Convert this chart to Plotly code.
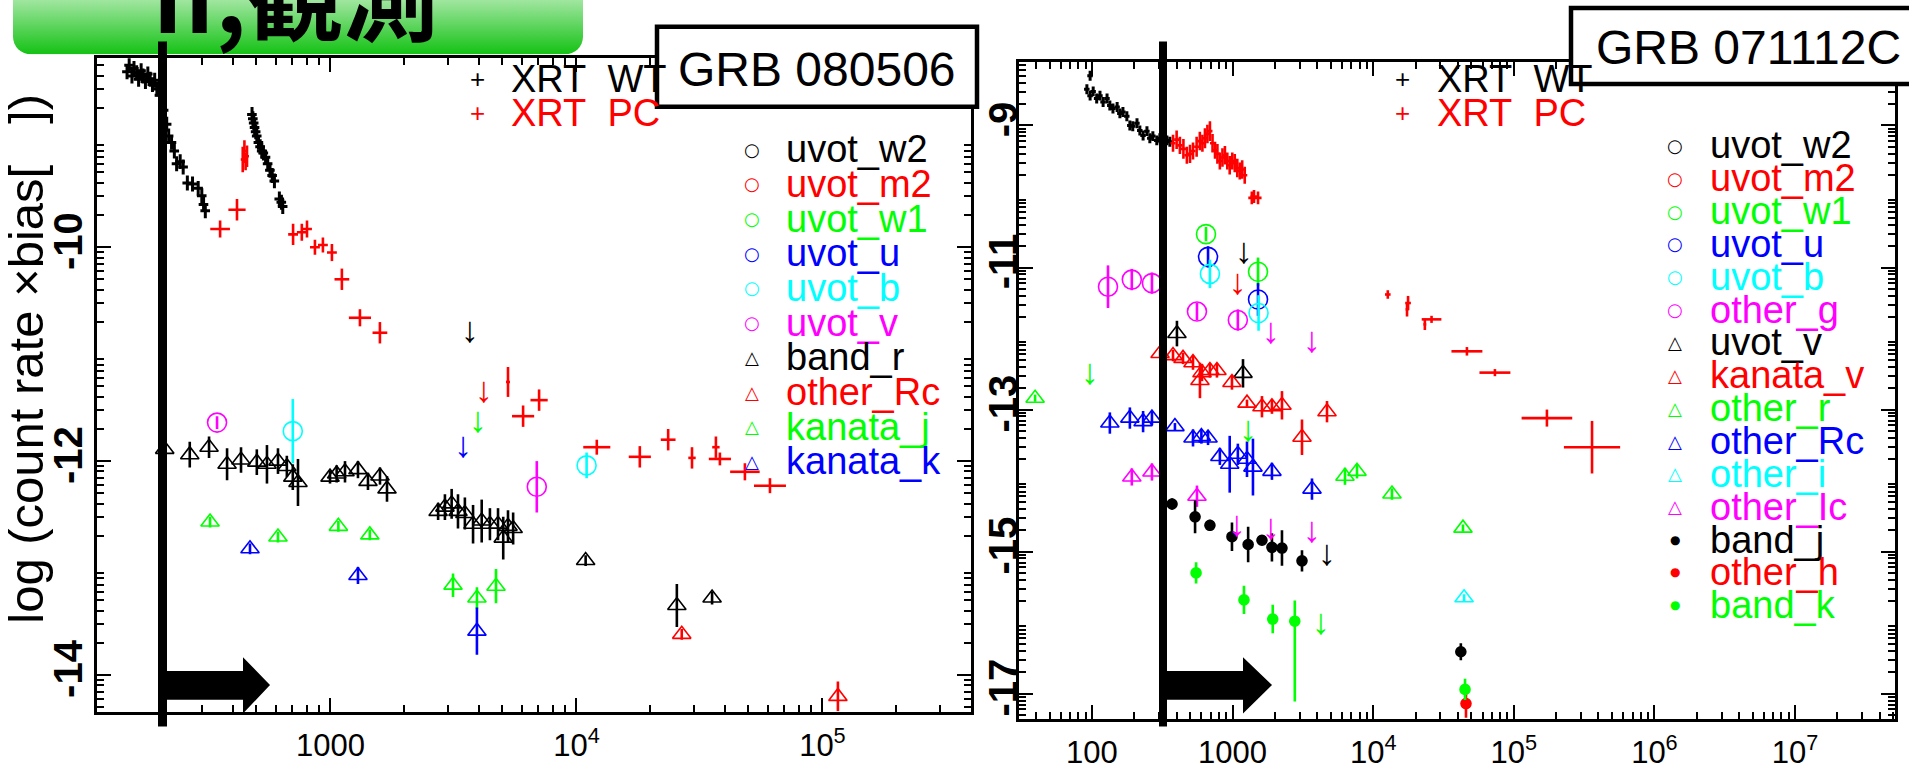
import base64
import numpy as np
import plotly.graph_objects as go

W, H = 1909, 770
FONT = "Liberation Sans, Arial, sans-serif"
BLACK, RED, GREEN, BLUE, CYAN, MAGENTA = "#000000", "#ff0000", "#00ff00", "#0000ff", "#00ffff", "#ff00ff"

# ===================== GRB 080506 (left panel) =====================
L_WT_T = [149, 152, 156, 159, 163, 166, 170, 173, 177, 181, 185, 189, 193, 197, 202, 210, 216, 220, 226, 232,
          237, 245, 252, 262, 275, 290, 300, 305, 310,
          480, 484, 488, 492, 497, 502, 510, 518, 526, 534, 545, 556, 568, 580, 592, 620, 632, 640]
L_WT_V = [-8.36, -8.30, -8.40, -8.33, -8.37, -8.43, -8.35, -8.40, -8.45, -8.38, -8.43, -8.48, -8.44, -8.52, -8.58,
          -8.72, -8.85, -8.96, -9.02, -9.10, -9.22, -9.20, -9.25, -9.40, -9.41, -9.45, -9.52, -9.60, -9.66,
          -8.76, -8.80, -8.84, -8.88, -8.92, -8.96, -9.02, -9.06, -9.10, -9.12, -9.16, -9.22, -9.28, -9.33, -9.38,
          -9.55, -9.58, -9.62]

L_PC_T = [356, 417, 440, 447, 452, 458, 705, 765, 803, 865, 932, 1014, 1113, 1318, 1589, 5270, 6070, 7050,
          12100, 18100, 23600, 29500, 36900, 38300, 48400, 61200]
L_PC_V = [-9.83, -9.65, -9.18, -9.10, -9.20, -9.15, -9.88, -9.86, -9.83, -10.00, -9.98, -10.05, -10.30, -10.66,
          -10.80, -11.26, -11.58, -11.43, -11.87, -11.96, -11.80, -11.97, -11.87, -11.98, -12.10, -12.23]
L_PC_XERR = [0.040, 0.035, 0.008, 0.008, 0.008, 0.008, 0.020, 0.020, 0.020, 0.020, 0.020, 0.020, 0.030, 0.045,
             0.030, 0.008, 0.045, 0.035, 0.055, 0.045, 0.030, 0.015, 0.015, 0.045, 0.060, 0.065]
L_PC_YERR = [0.08, 0.10, 0.12, 0.10, 0.08, 0.10, 0.10, 0.08, 0.08, 0.07, 0.07, 0.08, 0.10, 0.08, 0.10, 0.14,
             0.10, 0.10, 0.07, 0.10, 0.10, 0.10, 0.10, 0.06, 0.08, 0.07]

L_UV_T, L_UV_V, L_UV_E = [346, 6900], [-11.64, -12.24], [0.06, 0.24]
L_UB_T, L_UB_V, L_UB_E = [703, 11000], [-11.72, -12.04], [0.30, 0.12]

L_R_T = [212, 268, 321, 380, 433, 502, 552, 612, 665, 703, 738, 996, 1060, 1146, 1294, 1421, 1590, 1698,
         2740, 2920, 3110, 3300, 3520, 3800, 4120, 4450, 4800, 5040, 5270, 5530, 10900, 25600, 35600]
L_R_V = [-11.89, -11.94, -11.87, -12.03, -11.99, -12.01, -12.03, -12.00, -12.05, -12.15, -12.20,
         -12.15, -12.12, -12.10, -12.08, -12.19, -12.14, -12.26,
         -12.47, -12.43, -12.40, -12.47, -12.49, -12.59, -12.56, -12.59, -12.59, -12.72, -12.61, -12.63,
         -12.93, -13.35, -13.28]
L_R_E = [0.05, 0.12, 0.10, 0.15, 0.12, 0.12, 0.18, 0.12, 0.10, 0.12, 0.22, 0.06, 0.08, 0.10, 0.08, 0.08, 0.08,
         0.12, 0.08, 0.12, 0.14, 0.16, 0.15, 0.18, 0.20, 0.15, 0.15, 0.20, 0.15, 0.15, 0.05, 0.20, 0.06]

L_KJ_T = [324, 612, 1077, 1446, 3150, 3940, 4710]
L_KJ_V = [-12.57, -12.71, -12.61, -12.69, -13.16, -13.28, -13.17]
L_KJ_E = [0.05, 0.05, 0.05, 0.05, 0.11, 0.10, 0.16]
L_KK_T, L_KK_V, L_KK_E = [471, 1294, 3940], [-12.82, -13.07, -13.59], [0.05, 0.08, 0.22]
L_RC_T, L_RC_V, L_RC_E = [26800, 115600], [-13.62, -14.20], [0.05, 0.14]

L_UL_BLACK_T, L_UL_BLACK_V = [3690], [-10.80]
L_UL_RED_T, L_UL_RED_V = [4210], [-11.36]
L_UL_GREEN_T, L_UL_GREEN_V = [3980], [-11.64]
L_UL_BLUE_T, L_UL_BLUE_V = [3470], [-11.88]

# ===================== GRB 071112C (right panel) =====================
R_WT_T = [92, 97, 97, 102, 108, 114, 120, 128, 134, 141, 151, 158, 166, 177, 186, 195, 209, 219, 231, 246,
          258, 271, 289, 304, 320, 341, 358]
R_WT_V = [-8.49, -8.30, -8.58, -8.52, -8.62, -8.58, -8.67, -8.62, -8.72, -8.76, -8.74, -8.83, -8.81, -8.87,
          -9.00, -9.01, -8.97, -9.07, -9.14, -9.08, -9.18, -9.15, -9.21, -9.18, -9.25, -9.21, -9.23]

R_PC_T = [377, 400, 422, 447, 473, 498, 523, 555, 585, 610, 636, 662, 690, 720, 750, 780, 812, 847, 882, 917,
          954, 995, 1036, 1080, 1125, 1170, 1220, 1370, 1420, 1517,
          12700, 17400, 17700, 23300, 26000, 46400, 73400, 172000, 360000]
R_PC_V = [-9.25, -9.20, -9.28, -9.33, -9.42, -9.40, -9.36, -9.30, -9.22, -9.25, -9.18, -9.12, -9.08, -9.25,
          -9.35, -9.40, -9.50, -9.45, -9.42, -9.50, -9.56, -9.50, -9.53, -9.60, -9.64, -9.62, -9.70, -10.02,
          -10.00, -10.02,
          -11.38, -11.59, -11.50, -11.80, -11.73, -12.18, -12.48, -13.12, -13.53]
R_PC_XERR = [0.018, 0.018, 0.018, 0.018, 0.018, 0.018, 0.018, 0.018, 0.018, 0.018, 0.018, 0.018, 0.018, 0.018,
             0.018, 0.018, 0.018, 0.018, 0.018, 0.018, 0.018, 0.018, 0.018, 0.018, 0.018, 0.018, 0.018, 0.025,
             0.025, 0.025,
             0.020, 0.010, 0.020, 0.010, 0.070, 0.110, 0.110, 0.180, 0.200]
R_PC_YERR = [0.12, 0.13, 0.12, 0.14, 0.12, 0.13, 0.12, 0.14, 0.13, 0.12, 0.14, 0.13, 0.14, 0.13, 0.12, 0.14,
             0.12, 0.13, 0.13, 0.12, 0.13, 0.12, 0.13, 0.13, 0.12, 0.13, 0.12, 0.09, 0.09, 0.09,
             0.06, 0.10, 0.10, 0.08, 0.05, 0.06, 0.05, 0.12, 0.37]

R_W1_T, R_W1_V, R_W1_E = [647, 1517], [-10.53, -11.06], [0.10, 0.20]
R_U_T, R_U_V, R_U_E = [669, 1517], [-10.85, -11.45], [0.15, 0.23]
R_B_T, R_B_V, R_B_E = [690, 1530], [-11.09, -11.64], [0.20, 0.25]
R_G_T = [130, 192, 267, 558, 1090]
R_G_V = [-11.27, -11.17, -11.22, -11.62, -11.74]
R_G_E = [0.30, 0.15, 0.15, 0.12, 0.15]

R_V_T, R_V_V, R_V_E = [402, 1186], [-11.93, -12.49], [0.18, 0.20]
R_KV_T = [305, 377, 444, 523, 606, 586, 690, 774, 990, 1266, 1618, 1905, 2245, 3116, 4693]
R_KV_V = [-12.21, -12.24, -12.28, -12.34, -12.48, -12.59, -12.45, -12.45, -12.62, -12.91, -12.96, -12.96,
          -12.94, -13.39, -13.03]
R_KV_E = [0.05, 0.08, 0.08, 0.10, 0.12, 0.25, 0.10, 0.10, 0.10, 0.05, 0.15, 0.10, 0.20, 0.25, 0.15]
R_R_T = [39.4, 6300, 7670, 13600, 43500]
R_R_V = [-12.84, -13.94, -13.87, -14.19, -14.67]
R_R_E = [0.05, 0.12, 0.10, 0.08, 0.05]
R_RC_T = [134, 186, 231, 267, 389, 523, 600, 669, 812, 954, 1090, 1266, 1396, 1905, 3670]
R_RC_V = [-13.19, -13.12, -13.17, -13.12, -13.24, -13.40, -13.38, -13.40, -13.66, -13.77, -13.63, -13.70,
          -13.81, -13.87, -14.12]
R_RC_E = [0.15, 0.15, 0.15, 0.10, 0.05, 0.12, 0.10, 0.10, 0.12, 0.40, 0.15, 0.25, 0.40, 0.12, 0.15]
R_I_T, R_I_V, R_I_E = [44300], [-15.65], [0.05]
R_IC_T, R_IC_V, R_IC_E = [192, 267, 558], [-13.95, -13.88, -14.22], [0.12, 0.12, 0.15]

R_J_T = [371, 541, 690, 990, 1290, 1618, 1905, 2245, 3116, 42000]
R_J_V = [-14.33, -14.51, -14.63, -14.79, -14.90, -14.84, -14.94, -14.95, -15.13, -16.41]
R_J_E = [0.08, 0.23, 0.08, 0.20, 0.25, 0.05, 0.20, 0.25, 0.15, 0.12]
R_H_T, R_H_V, R_H_E = [45700], [-17.14], [0.20]
R_K_T = [550, 1205, 1930, 2770, 45000]
R_K_V = [-15.30, -15.68, -15.95, -15.98, -16.94]
R_K_EP = [0.15, 0.20, 0.20, 0.29, 0.15]
R_K_EM = [0.15, 0.20, 0.20, 1.13, 0.15]

R_UL_BLACK_T, R_UL_BLACK_V = [1205, 4690], [-10.81, -15.06]
R_UL_RED_T, R_UL_RED_V = [1090], [-11.25]
R_UL_GREEN_T, R_UL_GREEN_V = [97, 1290, 4250], [-12.52, -13.31, -16.04]
R_UL_MAG_T, R_UL_MAG_V = [1875, 3670, 1075, 1875, 3670], [-11.93, -12.06, -14.65, -14.70, -14.74]

# ===================== legends / ticks / texts =====================
XRT_NAMES = ["XRT\u00a0\u00a0WT", "XRT\u00a0\u00a0PC"]
XRT_COLORS = [BLACK, RED]
L_LEG_NAMES = ["uvot_w2", "uvot_m2", "uvot_w1", "uvot_u", "uvot_b", "uvot_v",
               "band_r", "other_Rc", "kanata_j", "kanata_k"]
L_LEG_COLORS = [BLACK, RED, GREEN, BLUE, CYAN, MAGENTA, BLACK, RED, GREEN, BLUE]
L_LEG_GLYPHS = ["○"] * 6 + ["△"] * 4
R_LEG_NAMES = ["uvot_w2", "uvot_m2", "uvot_w1", "uvot_u", "uvot_b", "other_g", "uvot_v", "kanata_v",
               "other_r", "other_Rc", "other_i", "other_Ic", "band_j", "other_h", "band_k"]
R_LEG_COLORS = [BLACK, RED, GREEN, BLUE, CYAN, MAGENTA, BLACK, RED, GREEN, BLUE, CYAN, MAGENTA,
                BLACK, RED, GREEN]
R_LEG_GLYPHS = ["○"] * 6 + ["△"] * 6 + ["●"] * 3

L_XTICKS = [1e3, 1e4, 1e5]
L_XTEXT = ["1000", "10<sup>4</sup>", "10<sup>5</sup>"]
R_XTICKS = [1e2, 1e3, 1e4, 1e5, 1e6, 1e7]
R_XTEXT = ["100", "1000", "10<sup>4</sup>", "10<sup>5</sup>", "10<sup>6</sup>", "10<sup>7</sup>"]
L_YTICKS = [-10, -12, -14]
L_YTEXT = ["-10", "-12", "-14"]
L_YTICKS_UNLABELED = [-9, -11, -13]
R_YTICKS = [-9, -11, -13, -15, -17]
R_YTEXT = ["-9", "-11", "-13", "-15", "-17"]
R_YTICKS_UNLABELED = [-10, -12, -14, -16]

TITLE = "<b>II,観測</b>"
Y_TITLE = "log (count rate \u00d7bias[\u00a0\u00a0\u00a0])"
GRB_L = "GRB 080506"
GRB_R = "GRB 071112C"


# ===================== helpers =====================
def px(x):
    return x / W


def py(y):
    return 1 - y / H


def dex_err(t, d):
    t = np.asarray(t, float)
    d = np.asarray(d, float)
    return t * (10 ** d - 1), t * (1 - 10 ** (-d))


def xrt_pc(t, v, xd, ye, color, xa, ya):
    plus, minus = dex_err(t, xd)
    return go.Scatter(x=t, y=v, mode="markers", xaxis=xa, yaxis=ya, marker=dict(size=1, color=color),
                      error_x=dict(type="data", symmetric=False, array=plus, arrayminus=minus,
                                   color=color, thickness=2.6, width=0),
                      error_y=dict(type="data", array=ye, color=color, thickness=2.6, width=0))


def xrt_wt(t, v, color, xa, ya):
    return go.Scatter(x=t, y=v, mode="markers", xaxis=xa, yaxis=ya, marker=dict(size=1, color=color),
                      error_x=dict(type="percent", value=4.5, color=color, thickness=3, width=0),
                      error_y=dict(type="constant", value=0.07, color=color, thickness=3, width=0))


def pts(t, v, e, color, symbol, size, xa, ya, em=None):
    ey = dict(type="data", array=e, color=color, thickness=2.6, width=0)
    if em is not None:
        ey.update(symmetric=False, arrayminus=em)
    return go.Scatter(x=t, y=v, mode="markers", xaxis=xa, yaxis=ya,
                      marker=dict(symbol=symbol, size=size, color=color, line=dict(color=color, width=1.6)),
                      error_y=ey)


def ul(t, v, color, xa, ya):
    return go.Scatter(x=t, y=v, mode="text", text=["↓"] * len(t), textposition="middle center",
                      xaxis=xa, yaxis=ya, textfont=dict(family=FONT, size=36, color=color))


traces = [
    xrt_wt(L_WT_T, L_WT_V, BLACK, "x", "y"),
    xrt_pc(L_PC_T, L_PC_V, L_PC_XERR, L_PC_YERR, RED, "x", "y"),
    pts(L_R_T, L_R_V, L_R_E, BLACK, "triangle-up-open", 16, "x", "y"),
    pts(L_KJ_T, L_KJ_V, L_KJ_E, GREEN, "triangle-up-open", 16, "x", "y"),
    pts(L_KK_T, L_KK_V, L_KK_E, BLUE, "triangle-up-open", 16, "x", "y"),
    pts(L_RC_T, L_RC_V, L_RC_E, RED, "triangle-up-open", 16, "x", "y"),
    pts(L_UV_T, L_UV_V, L_UV_E, MAGENTA, "circle-open", 19, "x", "y"),
    pts(L_UB_T, L_UB_V, L_UB_E, CYAN, "circle-open", 19, "x", "y"),
    ul(L_UL_BLACK_T, L_UL_BLACK_V, BLACK, "x", "y"),
    ul(L_UL_RED_T, L_UL_RED_V, RED, "x", "y"),
    ul(L_UL_GREEN_T, L_UL_GREEN_V, GREEN, "x", "y"),
    ul(L_UL_BLUE_T, L_UL_BLUE_V, BLUE, "x", "y"),

    xrt_wt(R_WT_T, R_WT_V, BLACK, "x2", "y2"),
    xrt_pc(R_PC_T, R_PC_V, R_PC_XERR, R_PC_YERR, RED, "x2", "y2"),
    pts(R_W1_T, R_W1_V, R_W1_E, GREEN, "circle-open", 19, "x2", "y2"),
    pts(R_U_T, R_U_V, R_U_E, BLUE, "circle-open", 19, "x2", "y2"),
    pts(R_B_T, R_B_V, R_B_E, CYAN, "circle-open", 19, "x2", "y2"),
    pts(R_G_T, R_G_V, R_G_E, MAGENTA, "circle-open", 19, "x2", "y2"),
    pts(R_V_T, R_V_V, R_V_E, BLACK, "triangle-up-open", 16, "x2", "y2"),
    pts(R_KV_T, R_KV_V, R_KV_E, RED, "triangle-up-open", 16, "x2", "y2"),
    pts(R_R_T, R_R_V, R_R_E, GREEN, "triangle-up-open", 16, "x2", "y2"),
    pts(R_RC_T, R_RC_V, R_RC_E, BLUE, "triangle-up-open", 16, "x2", "y2"),
    pts(R_I_T, R_I_V, R_I_E, CYAN, "triangle-up-open", 16, "x2", "y2"),
    pts(R_IC_T, R_IC_V, R_IC_E, MAGENTA, "triangle-up-open", 16, "x2", "y2"),
    pts(R_J_T, R_J_V, R_J_E, BLACK, "circle", 10, "x2", "y2"),
    pts(R_H_T, R_H_V, R_H_E, RED, "circle", 10, "x2", "y2"),
    pts(R_K_T, R_K_V, R_K_EP, GREEN, "circle", 10, "x2", "y2", em=R_K_EM),
    ul(R_UL_BLACK_T, R_UL_BLACK_V, BLACK, "x2", "y2"),
    ul(R_UL_RED_T, R_UL_RED_V, RED, "x2", "y2"),
    ul(R_UL_GREEN_T, R_UL_GREEN_V, GREEN, "x2", "y2"),
    ul(R_UL_MAG_T, R_UL_MAG_V, MAGENTA, "x2", "y2"),
]

fig = go.Figure(traces)


def minor_log(lo, hi):
    return [k * 10.0 ** n for n in range(lo, hi) for k in range(2, 10)]


def minor_lin(lo, hi):
    return [n + float(np.log10(k)) for n in range(lo, hi) for k in range(2, 10)]


TICK = dict(ticks="inside", ticklen=14, tickwidth=2, tickcolor="black", showgrid=False, zeroline=False)


def xax(domain, rng, tv, tt, anchor, minors):
    return dict(type="log", domain=domain, range=rng, anchor=anchor, tickmode="array", tickvals=tv,
                ticktext=tt, showline=True, linecolor="black", linewidth=3, mirror="ticks",
                tickfont=dict(family=FONT, size=31, color="black"), ticklabelstandoff=4,
                minor=dict(tickmode="array", tickvals=minors, ticks="inside", ticklen=7, tickwidth=2,
                           tickcolor="black", showgrid=False), **TICK)


def yax(domain, rng, tv, tt, anchor, minors, standoff):
    return dict(type="linear", domain=domain, range=rng, anchor=anchor, tickmode="array", tickvals=tv,
                ticktext=tt, showline=True, linecolor="black", linewidth=3, mirror="ticks",
                tickangle=-90, tickfont=dict(family=FONT, size=40, color="black", weight="bold"),
                ticklabelstandoff=standoff,
                minor=dict(tickmode="array", tickvals=minors, ticks="inside", ticklen=7, tickwidth=2,
                           tickcolor="black", showgrid=False), **TICK)


def yover(base, anchor, rng, tv):
    return dict(overlaying=base, anchor=anchor, range=rng, tickmode="array", tickvals=tv,
                showticklabels=False, showline=False, mirror="ticks", side="left", **TICK)


L_YRANGE = [-14.342, -8.234]
R_YRANGE = [-17.35, -8.11]
fig.update_layout(
    width=W, height=H, margin=dict(l=0, r=0, t=0, b=0), paper_bgcolor="white", plot_bgcolor="white",
    showlegend=False, hovermode=False,
    xaxis=xax([px(96.5), px(971)], [2.049, 5.604], L_XTICKS, L_XTEXT, "y", minor_log(2, 6)),
    yaxis=yax([py(720), py(59)], L_YRANGE, L_YTICKS, L_YTEXT, "x", minor_lin(-15, -8), -4),
    xaxis2=xax([px(1019), px(1895)], [1.481, 7.711], R_XTICKS, R_XTEXT, "y2", minor_log(1, 8)),
    yaxis2=yax([py(727), py(63)], R_YRANGE, R_YTICKS, R_YTEXT, "x2", minor_lin(-18, -8), -17),
    yaxis3=yover("y", "x", L_YRANGE, L_YTICKS_UNLABELED),
    yaxis4=yover("y2", "x2", R_YRANGE, R_YTICKS_UNLABELED),
)

# ---------- decorations ----------
def poly(points):
    return "M " + " L ".join(f"{px(x):.5f},{py(y):.5f}" for x, y in points) + " Z"


shapes = []
for x0, x1 in [(158, 167), (1159, 1167)]:
    shapes.append(dict(type="rect", xref="paper", yref="paper", x0=px(x0), x1=px(x1), y0=py(735), y1=py(42),
                       fillcolor="black", line=dict(width=0), layer="above"))
for xs, xh, xt in [(162, 243, 270), (1163, 1243, 1272)]:
    shapes.append(dict(type="path", xref="paper", yref="paper", fillcolor="black", line=dict(width=0),
                       layer="above",
                       path=poly([(xs, 679), (xh, 679), (xh, 665), (xt, 693), (xh, 722), (xh, 708), (xs, 708)])))
shapes.append(dict(type="rect", xref="paper", yref="paper", x0=px(657), x1=px(977), y0=py(108), y1=py(27),
                   fillcolor="white", line=dict(color="black", width=4.5), layer="above"))
shapes.append(dict(type="rect", xref="paper", yref="paper", x0=px(1571), x1=px(1925), y0=py(85), y1=py(8),
                   fillcolor="white", line=dict(color="black", width=4.5), layer="above"))

svg = ('<svg xmlns="http://www.w3.org/2000/svg" width="570" height="100" viewBox="0 0 570 100" '
       'preserveAspectRatio="none"><defs><linearGradient id="g" x1="0" y1="0" x2="0" y2="1">'
       '<stop offset="0" stop-color="#c8f4c8"/><stop offset="0.45" stop-color="#a0e6a0"/>'
       '<stop offset="1" stop-color="#14c214"/></linearGradient></defs>'
       '<rect x="0" y="0" width="570" height="100" rx="18" ry="18" fill="url(#g)"/></svg>')
uri = "data:image/svg+xml;base64," + base64.b64encode(svg.encode()).decode()
images = [dict(source=uri, xref="paper", yref="paper", x=px(13), y=py(-45), sizex=570 / W, sizey=100 / H,
               xanchor="left", yanchor="top", sizing="stretch", layer="above")]

ann = []
ann.append(dict(text=TITLE, xref="paper", yref="paper", x=px(150), y=py(64), xanchor="left", yanchor="bottom",
                showarrow=False, font=dict(family="Noto Sans CJK JP", size=96, color="black")))
ann.append(dict(text=Y_TITLE, xref="paper", yref="paper", x=px(26), y=py(363), xanchor="center",
                yanchor="middle", textangle=-90, showarrow=False, font=dict(family=FONT, size=49, color="black")))
ann.append(dict(text=GRB_L, xref="paper", yref="paper", x=px(817), y=py(70), xanchor="center", yanchor="middle",
                showarrow=False, font=dict(family=FONT, size=48, color="black")))
ann.append(dict(text=GRB_R, xref="paper", yref="paper", x=px(1748), y=py(48), xanchor="center",
                yanchor="middle", showarrow=False, font=dict(family=FONT, size=48, color="black")))


def glyph_font(g, color):
    if g == "●":
        return dict(family="DejaVu Sans", size=12, color=color)
    if g == "+":
        return dict(family=FONT, size=26, color=color)
    return dict(family="DejaVu Sans", size=18, color=color)


def legend(names, colors, glyphs, xm, xt, y0, step):
    for i, (n, c, g) in enumerate(zip(names, colors, glyphs)):
        y = y0 + i * step
        ann.append(dict(text=g, xref="paper", yref="paper", x=px(xm), y=py(y), xanchor="center",
                        yanchor="middle", showarrow=False, font=glyph_font(g, c)))
        ann.append(dict(text=n, xref="paper", yref="paper", x=px(xt), y=py(y), xanchor="left",
                        yanchor="middle", showarrow=False, font=dict(family=FONT, size=38, color=c)))


legend(XRT_NAMES, XRT_COLORS, ["+", "+"], 478, 509, 80, 34)
legend(L_LEG_NAMES, L_LEG_COLORS, L_LEG_GLYPHS, 752, 784, 151, 35.1)
legend(XRT_NAMES, XRT_COLORS, ["+", "+"], 1402, 1435, 80, 34)
legend(R_LEG_NAMES, R_LEG_COLORS, R_LEG_GLYPHS, 1675, 1708, 147, 33.25)

fig.update_layout(shapes=shapes, images=images, annotations=ann)
fig.write_html("out.html", config={"displayModeBar": False})
